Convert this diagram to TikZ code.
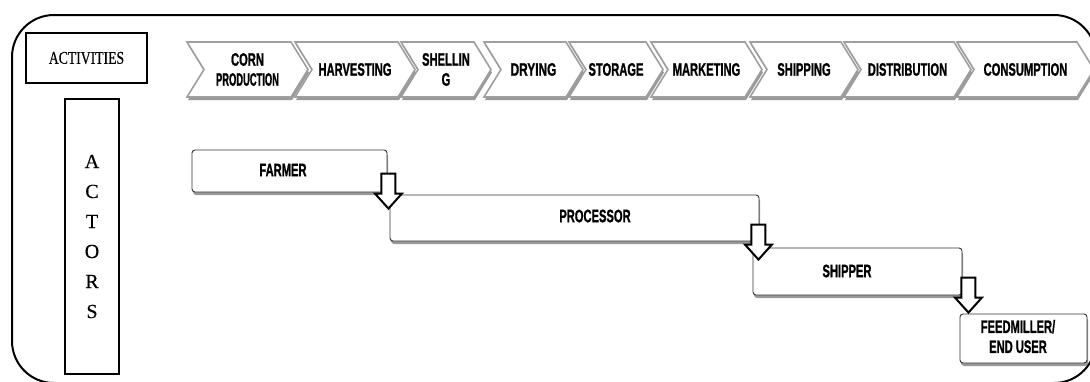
\documentclass[tikz,border=0pt]{standalone}
\usepackage{fontspec}
\setmainfont{Liberation Serif}[FakeBold=0.6]
\newfontfamily\lsans{Liberation Sans}[BoldFeatures={FakeBold=1.4}]
\newfontfamily\lserif{Liberation Serif}[FakeBold=0.4]
\usetikzlibrary{shadows}
\newcommand\cnd[2][0.62]{\scalebox{#1}[1]{#2}}
\newcommand\chevron[4]{%
  \draw[chev] (#2,42) -- (#3,42) -- ({#3+17},69.5) -- (#3,97) -- (#2,97) -- ({#2+17},69.5) -- cycle;
  \node[chevtext] (#1) at ({(#2+#3)/2+8.5},69.5) {#4};}
\newcommand\blockarr[1]{%
  \draw[blockarrow] (#1) -- ++(-13.5,-15) -- ++(6.5,0) -- ++(0,-20) -- ++(14,0) -- ++(0,20) -- ++(6.5,0) -- cycle;}
\begin{document}
\begin{tikzpicture}[x=1pt,y=-1pt,
  outer/.style={draw=black, line width=2pt, rounded corners=42pt},
  headbox/.style={draw=black, line width=1.8pt, fill=white, inner sep=0pt},
  softshadow/.style={drop shadow={shadow xshift=1pt, shadow yshift=-3pt, opacity=0.4, fill=black}},
  chev/.style={draw=gray!75, line width=1.6pt, fill=white, line join=miter, softshadow},
  chevtext/.style={font=\lsans\bfseries\fontsize{18}{20}\selectfont, align=center, inner sep=0pt, text=black},
  actorbox/.style={draw=gray!40!black, line width=0.9pt, fill=white, rounded corners=3pt, inner sep=0pt, softshadow},
  actortext/.style={chevtext},
  blockarrow/.style={draw=black, line width=2pt, fill=white, line join=miter},
]
\useasboundingbox (0,0) rectangle (1090,381);
\fill[white] (0,0) rectangle (1090,381);
% outer frame
\draw[outer] (12,15) rectangle (1096,383);

% headers
\node[headbox, minimum width=121pt, minimum height=50pt,
      font=\lserif\fontsize{18}{20}\selectfont] (activities) at (86.5,58) {\cnd[0.76]{ACTIVITIES}};
\node[headbox, minimum width=54pt, minimum height=275pt, align=center,
      font=\lserif\fontsize{20}{30}\selectfont] (actors) at (92,236.5) {A\\C\\T\\O\\R\\S};

% activity chevrons
\chevron{corn}{187}{291}{\cnd{CORN}\\\cnd[0.52]{PRODUCTION}}
\chevron{harv}{295}{398}{\cnd{HARVESTING}}
\chevron{shell}{401}{474}{\cnd{SHELLIN}\\\cnd{G}}
\chevron{dry}{484}{566}{\cnd[0.66]{DRYING}}
\chevron{stor}{569}{646}{\cnd{STORAGE}}
\chevron{mark}{651}{745}{\cnd{MARKETING}}
\chevron{ship}{750}{841}{\cnd{SHIPPING}}
\chevron{dist}{844}{954}{\cnd{DISTRIBUTION}}
\chevron{cons}{957}{1077}{\cnd{CONSUMPTION}}

% actor boxes
\node[actorbox, minimum width=195pt, minimum height=42pt] (farmer) at (289.5,171) {};
\node[actortext] (farmerlbl) at (283,170) {\cnd{FARMER}};
\node[actorbox, minimum width=369pt, minimum height=46pt] (processor) at (574.5,218) {};
\node[actortext] (processorlbl) at (595,216) {\cnd{PROCESSOR}};
\node[actorbox, minimum width=209pt, minimum height=47pt] (shipper) at (857.5,271.5) {};
\node[actortext] (shipperlbl) at (847,271) {\cnd{SHIPPER}};
\node[actorbox, minimum width=127pt, minimum height=49pt] (feed) at (1023.5,338.5) {};
\node[actortext] (feedlbl) at (1018,336.5) {\cnd{FEEDMILLER/}\\\cnd{END USER}};

% block arrows
\path (farmer.east |- processor.north) ++(1,14) coordinate (t1);
\path (processor.east |- shipper.north) ++(-1,12) coordinate (t2);
\path (shipper.east |- feed.north) ++(6,-1) coordinate (t3);
\blockarr{t1}
\blockarr{t2}
\blockarr{t3}
\end{tikzpicture}
\end{document}
